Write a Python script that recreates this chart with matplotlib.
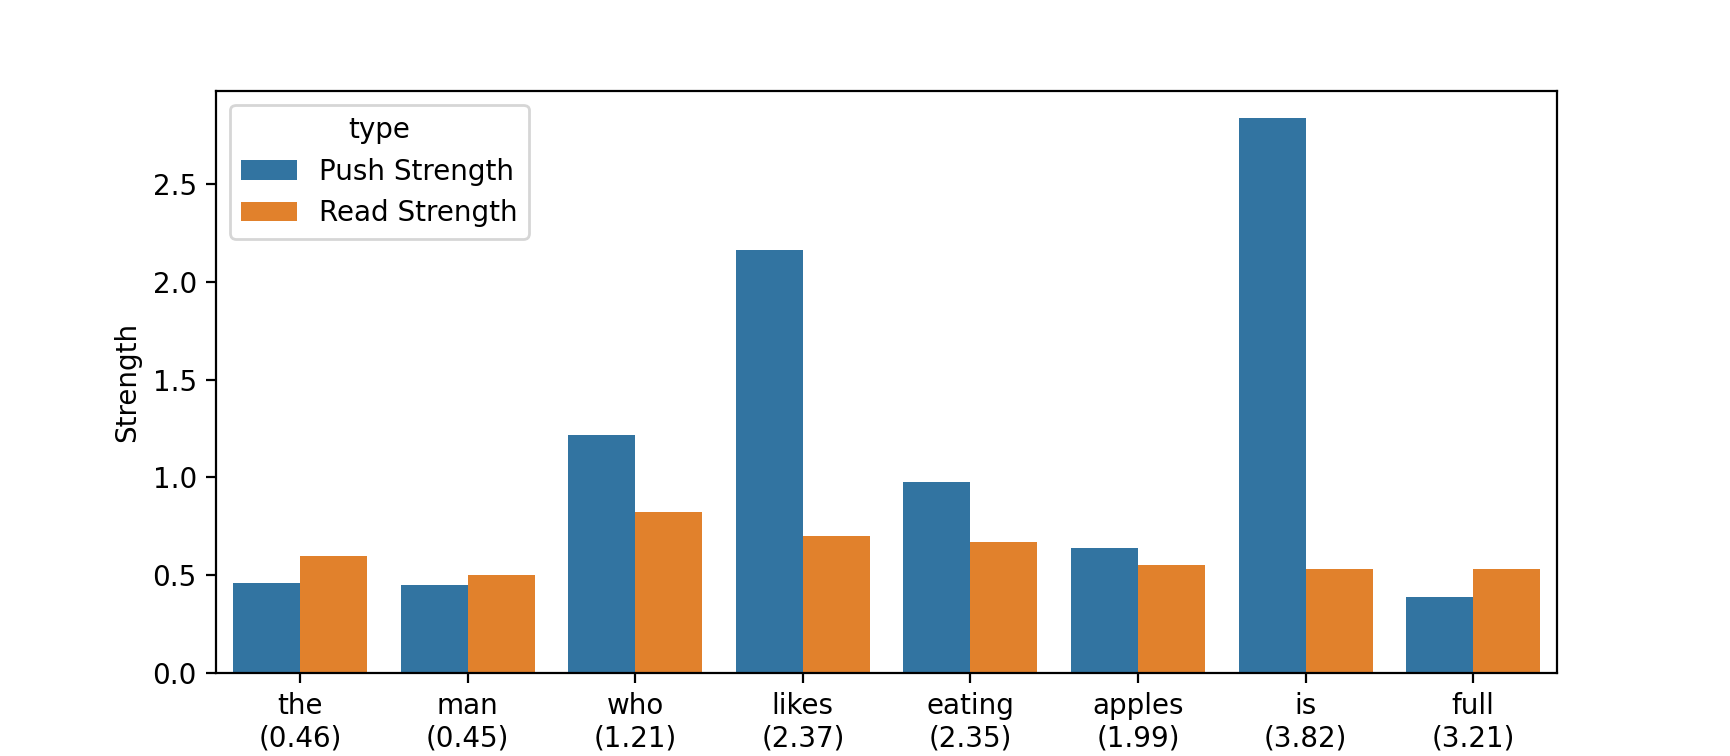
import pandas as pd
import numpy as np
import matplotlib
matplotlib.use("Agg")
import matplotlib.pyplot as plt
import seaborn as sns

# Words with the number shown under each one
words = ["the", "man", "who", "likes", "eating", "apples", "is", "full"]
word_scores = [0.46, 0.45, 1.21, 2.37, 2.35, 1.99, 3.82, 3.21]

# Bar heights
push_strength = [0.46, 0.45, 1.215, 2.16, 0.975, 0.64, 2.835, 0.39]
read_strength = [0.60, 0.50, 0.825, 0.70, 0.67, 0.55, 0.53, 0.53]

tick_labels = [f"{w}\n({s:.2f})" for w, s in zip(words, word_scores)]

df = pd.DataFrame({
    "word": tick_labels * 2,
    "Strength": push_strength + read_strength,
    "type": ["Push Strength"] * len(words) + ["Read Strength"] * len(words),
})

fig, ax = plt.subplots(figsize=(8.65, 3.78), dpi=200)
sns.barplot(data=df, x="word", y="Strength", hue="type", ax=ax)

ax.set_xlabel("")
ax.set_ylabel("Strength")
ax.legend(title="type", loc="upper left")

fig.savefig("out.png", dpi=200)
